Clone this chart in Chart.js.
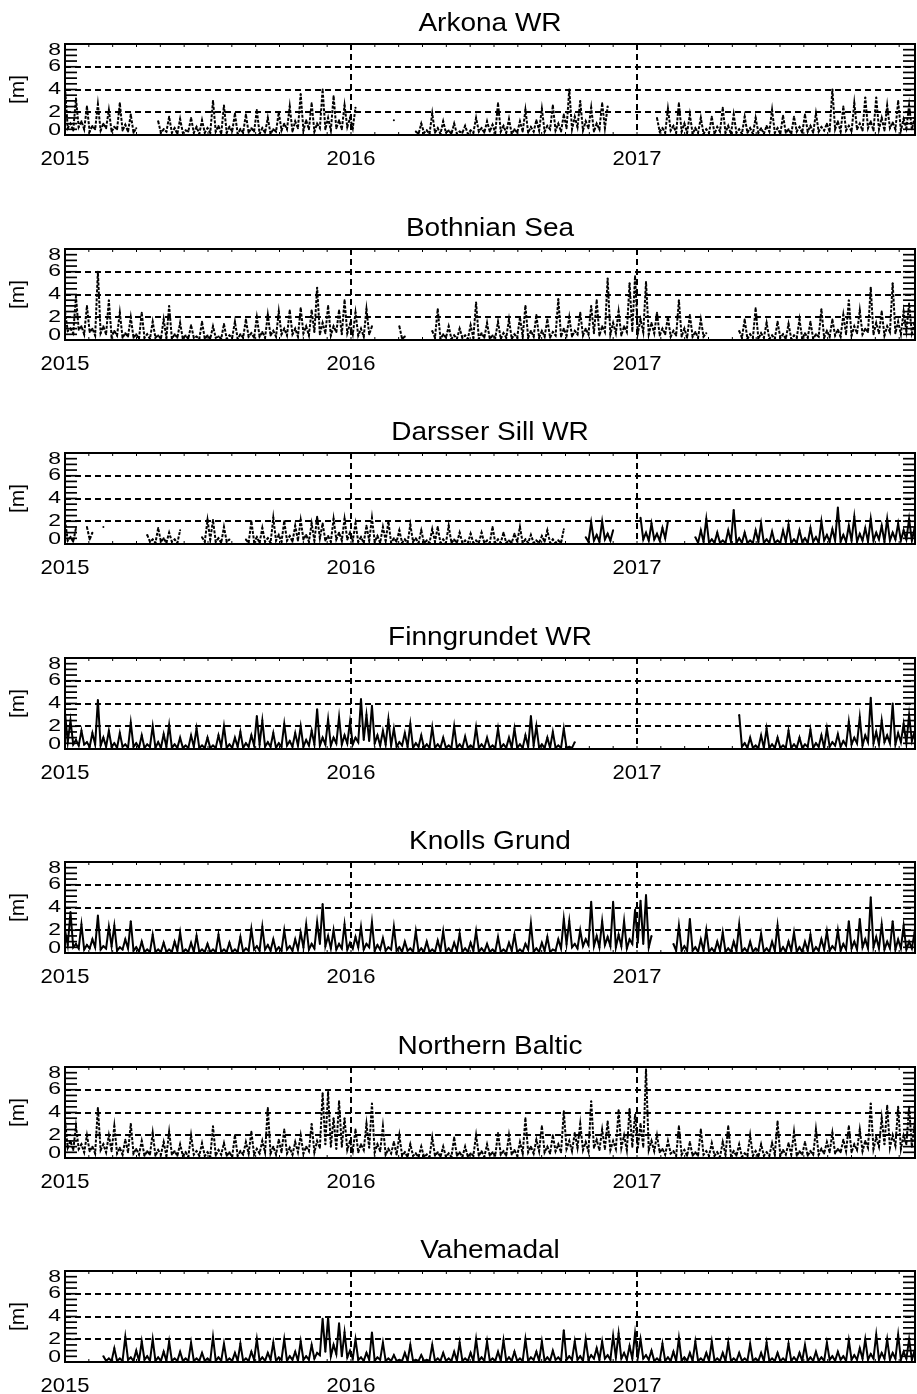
<!DOCTYPE html>
<html>
<head>
<meta charset="utf-8">
<title>Significant wave height 2015-2017</title>
<script src="https://cdn.jsdelivr.net/npm/chart.js@4.4.1/dist/chart.umd.min.js"></script>
<style>
    html, body { margin: 0; padding: 0; background: #fff; }
    body { width: 917px; height: 1394px; overflow: hidden; position: relative; }
    .panel { position: absolute; left: 0; width: 917px; height: 180px; }
</style>
</head>
<body>
<script>
// wave height [m], one reading per week (week 0 = 1 Jan 2015),
// plus the trough seen half a week later (...Low arrays); null = no data
const arkona = [
    4.2, 1.0, 3.2, 1.2, 2.5, 0.8, 2.7, 1.0, 2.2, 0.7, 2.8, 0.9, 1.8,
    0.6, null, null, null, 1.2, 0.5, 1.6, 0.6, 1.4, 0.4, 1.5, 0.7, 1.3,
    0.6, 3.0, 0.8, 2.6, 0.7, 1.9, 0.5, 1.8, 0.6, 2.2, 0.6, 1.5, 0.5,
    2.0, 1.0, 2.5, 1.2, 3.6, 1.3, 2.8, 1.0, 4.0, 1.5, 3.4, 1.3, 2.6,
    1.5, 2.4, null, null, null, null, null, null, 1.3, null, null, null, 0.3,
    1.0, 0.4, 1.9, 0.6, 1.2, 0.4, 1.0, 0.3, 0.8, 0.4, 1.5, 0.6, 1.2,
    0.9, 2.8, 0.8, 1.4, 0.5, 1.2, 2.2, 0.7, 1.3, 2.3, 0.8, 2.6, 1.0,
    1.8, 4.0, 1.6, 3.0, 1.2, 2.4, 1.0, 2.8, 2.5, null, null, null, null,
    null, null, null, null, 1.5, 0.6, 2.3, 0.8, 2.8, 1.0, 1.8, 0.6, 1.5,
    0.5, 1.6, 0.7, 2.4, 0.8, 1.8, 0.5, 1.6, 0.6, 1.5, 0.6, 0.8, 2.2,
    0.6, 1.7, 0.5, 1.6, 0.7, 1.8, 0.8, 1.9, 0.7, 1.0, 4.0, 1.2, 2.5,
    0.8, 2.8, 1.0, 3.3, 1.2, 3.3, 1.5, 2.6, 1.1, 3.0, 1.4, 2.6, 1.5
];
const arkonaLow = [
    0.6, 0.4, 0.7, 0.5, 0.3, 0.5, 0.4, 0.6, 0.3, 0.5, 0.4, 0.3, 0.2,
    null, null, null, null, 0.2, 0.3, 0.2, 0.1, 0.2, 0.3, 0.2, 0.1, 0.2,
    0.2, 0.3, 0.1, 0.2, 0.3, 0.1, 0.2, 0.2, 0.3, 0.1, 0.2, 0.1, 0.3,
    0.4, 0.5, 0.3, 0.6, 0.4, 0.5, 0.3, 0.6, 0.5, 0.4, 0.6, 0.5, 0.7,
    0.6, null, null, null, null, null, null, null, null, null, null, null, 0.1,
    0.2, 0.1, 0.2, 0.1, 0.2, 0.1, 0.1, 0.2, 0.1, 0.2, 0.3, 0.2, 0.3,
    0.2, 0.3, 0.2, 0.1, 0.2, 0.3, 0.2, 0.3, 0.4, 0.3, 0.5, 0.4, 0.3,
    0.6, 0.5, 0.7, 0.4, 0.6, 0.3, 0.5, 0.6, null, null, null, null, null,
    null, null, null, null, 0.3, 0.2, 0.4, 0.2, 0.3, 0.2, 0.1, 0.2, 0.1,
    0.2, 0.1, 0.3, 0.2, 0.1, 0.2, 0.1, 0.2, 0.1, 0.2, 0.1, 0.3, 0.2,
    0.1, 0.2, 0.1, 0.3, 0.2, 0.3, 0.2, 0.3, 0.4, 0.3, 0.5, 0.3, 0.4,
    0.3, 0.5, 0.4, 0.6, 0.4, 0.5, 0.4, 0.6, 0.5, 0.4, 0.6, 0.5, 0.6
];
const bothnian = [
    2.5, 1.0, 3.8, 1.2, 3.0, 1.0, 6.0, 1.2, 3.5, 0.8, 2.4, 0.6, 2.0,
    0.5, 2.4, 0.5, 1.6, 0.4, 1.8, 3.0, 0.5, 1.5, 0.4, 1.3, 0.3, 1.6,
    0.4, 1.2, 0.3, 1.4, 0.4, 1.6, 0.5, 1.8, 0.6, 2.0, 0.7, 2.2, 0.8,
    2.5, 1.0, 2.6, 1.0, 2.8, 1.2, 2.6, 4.6, 1.5, 3.0, 1.2, 2.6, 3.5,
    1.4, 2.4, 1.0, 2.7, 1.2, null, null, null, null, 1.2, 0.3, null, null,
    null, null, 0.8, 2.7, 0.5, 1.2, 0.4, 1.0, 0.4, 1.3, 3.3, 0.6, 1.5,
    0.4, 1.6, 0.6, 1.8, 0.5, 2.0, 3.0, 0.8, 2.2, 0.8, 1.8, 0.7, 3.6,
    1.0, 2.0, 0.8, 2.4, 1.0, 3.0, 3.5, 1.2, 5.4, 1.5, 2.5, 1.2, 5.0,
    5.6, 1.8, 5.1, 1.5, 2.4, 1.0, 2.0, 0.8, 3.5, 1.0, 2.2, 0.7, 1.8,
    0.6, null, null, null, null, null, 0.8, 1.8, 0.5, 2.8, 0.6, 1.5, 0.4,
    1.6, 0.5, 1.4, 0.4, 1.8, 0.6, 1.6, 0.5, 2.7, 0.8, 1.8, 0.9, 2.2,
    3.5, 1.2, 2.6, 1.0, 4.6, 1.5, 2.5, 1.2, 5.0, 1.6, 2.5, 3.2, 1.5
];
const bothnianLow = [
    0.8, 0.6, 0.9, 0.5, 0.7, 0.4, 0.6, 0.5, 0.3, 0.4, 0.2, 0.3, 0.2,
    0.1, 0.2, 0.1, 0.2, 0.1, 0.2, 0.1, 0.2, 0.1, 0.1, 0.2, 0.1, 0.1,
    0.1, 0.2, 0.1, 0.1, 0.2, 0.1, 0.2, 0.3, 0.2, 0.3, 0.2, 0.4, 0.3,
    0.5, 0.4, 0.5, 0.3, 0.6, 0.4, 0.7, 0.5, 0.6, 0.4, 0.7, 0.5, 0.6,
    0.5, 0.4, 0.3, 0.5, null, null, null, null, null, 0.1, null, null, null,
    null, null, 0.2, 0.1, 0.2, 0.1, 0.1, 0.2, 0.1, 0.2, 0.1, 0.2, 0.1,
    0.2, 0.1, 0.2, 0.1, 0.2, 0.3, 0.2, 0.3, 0.2, 0.3, 0.2, 0.4, 0.3,
    0.4, 0.3, 0.5, 0.4, 0.5, 0.6, 0.4, 0.7, 0.5, 0.6, 0.4, 0.7, 0.8,
    0.6, 0.7, 0.5, 0.6, 0.4, 0.5, 0.3, 0.4, 0.3, 0.2, 0.3, 0.2, 0.3,
    null, null, null, null, null, null, 0.2, 0.1, 0.2, 0.1, 0.2, 0.1, 0.1,
    0.2, 0.1, 0.1, 0.2, 0.1, 0.2, 0.1, 0.3, 0.2, 0.3, 0.4, 0.3, 0.5,
    0.4, 0.6, 0.5, 0.7, 0.5, 0.6, 0.4, 0.7, 0.6, 0.5, 0.8, 0.6, 0.7
];
const darsser = [
    2.1, 0.6, 1.4, null, 1.5, 1.0, null, 1.5, null, null, null, null, null,
    null, null, 0.8, 0.4, 1.4, 0.5, 1.0, 0.4, 1.2, null, null, null, 0.6,
    2.1, 2.1, 0.5, 1.5, 0.4, null, null, 0.4, 2.0, 0.6, 1.4, 0.5, 2.3,
    0.8, 2.0, 0.7, 1.6, 2.1, 0.8, 1.8, 2.4, 1.8, 0.7, 2.2, 1.0, 2.2,
    1.0, 1.8, 0.6, 1.6, 2.3, 0.7, 1.5, 2.0, 0.5, 1.2, 0.4, 1.7, 0.5,
    1.2, 0.3, 1.3, 1.5, 0.4, 1.6, 0.4, 1.0, 0.3, 0.9, 0.3, 1.0, 0.3,
    1.5, 0.4, 1.0, 0.3, 0.9, 1.5, 0.4, 0.8, 0.3, 0.7, 1.2, 0.4, 0.3,
    1.3, null, null, null, 0.6, 1.9, 0.8, 2.0, 0.9, 1.2, null, null, null,
    null, 2.3, 1.0, 1.8, 0.9, 1.4, 2.0, null, null, null, null, 0.6, 1.2,
    2.2, 0.4, 1.0, 0.3, 1.2, 3.0, 0.5, 1.0, 0.3, 1.2, 1.8, 0.4, 1.1,
    0.3, 1.2, 1.7, 0.4, 1.2, 0.5, 1.4, 0.6, 2.0, 0.8, 1.3, 3.2, 0.8,
    1.6, 2.4, 0.9, 1.4, 2.2, 1.0, 1.6, 2.2, 1.0, 1.8, 1.2, 2.2, 1.4
];
const darsserLow = [
    0.3, 0.2, null, null, 0.4, null, null, null, null, null, null, null, null,
    null, null, 0.2, 0.1, 0.2, 0.1, 0.2, 0.1, null, null, null, null, 0.2,
    0.4, 0.2, 0.1, 0.2, null, null, null, 0.1, 0.2, 0.1, 0.2, 0.1, 0.3,
    0.2, 0.3, 0.2, 0.3, 0.4, 0.2, 0.3, 0.5, 0.3, 0.2, 0.4, 0.3, 0.4,
    0.3, 0.2, 0.1, 0.3, 0.2, 0.1, 0.3, 0.1, 0.2, 0.1, 0.1, 0.2, 0.1,
    0.1, 0.1, 0.2, 0.1, 0.1, 0.1, 0.1, 0.1, 0.1, 0.1, 0.1, 0.1, 0.1,
    0.1, 0.1, 0.1, 0.1, 0.2, 0.1, 0.1, 0.1, 0.1, 0.2, 0.1, 0.1, 0.1,
    null, null, null, null, 0.2, 0.3, 0.2, 0.4, 0.3, null, null, null, null,
    null, 0.4, 0.3, 0.4, 0.3, 0.5, null, null, null, null, null, 0.1, 0.2,
    0.1, 0.1, 0.1, 0.1, 0.2, 0.1, 0.1, 0.1, 0.1, 0.2, 0.1, 0.1, 0.1,
    0.1, 0.2, 0.1, 0.1, 0.2, 0.1, 0.2, 0.1, 0.3, 0.2, 0.3, 0.2, 0.2,
    0.3, 0.2, 0.3, 0.2, 0.3, 0.4, 0.2, 0.3, 0.4, 0.3, 0.4, 0.3, 0.4
];
const finngrundet = [
    3.2, 2.5, 0.8, 1.6, 0.6, 1.4, 4.3, 1.0, 1.6, 0.5, 1.4, 0.4, 2.3,
    0.5, 1.2, 0.4, 2.0, 0.6, 1.3, 2.1, 0.4, 1.0, 0.3, 1.2, 1.8, 0.3,
    1.0, 0.3, 1.2, 2.0, 0.4, 1.0, 1.5, 0.5, 1.2, 2.9, 2.5, 0.6, 1.4,
    0.5, 2.2, 0.7, 1.4, 2.0, 0.8, 1.6, 3.5, 1.0, 2.6, 1.0, 2.8, 1.2,
    2.4, 1.0, 4.4, 3.0, 3.8, 1.2, 1.6, 2.6, 1.8, 0.6, 1.4, 2.2, 0.5,
    1.2, 0.4, 1.9, 0.4, 1.0, 0.3, 2.0, 0.4, 1.1, 0.3, 1.9, 0.4, 1.0,
    0.3, 1.8, 0.4, 1.0, 1.8, 0.4, 1.2, 2.9, 2.0, 0.4, 1.0, 1.5, 0.3,
    1.8, 0.2, 0.6, null, null, null, null, null, null, null, null, null, null,
    null, null, null, null, null, null, null, null, null, null, null, null, null,
    null, null, null, null, null, null, 3.0, 0.5, 1.0, 0.3, 1.2, 1.8, 0.4,
    1.0, 0.3, 1.6, 0.4, 1.0, 0.4, 1.7, 0.5, 1.2, 1.8, 0.6, 1.3, 0.7,
    2.4, 1.0, 2.8, 1.2, 4.5, 1.5, 2.5, 1.2, 4.0, 1.4, 2.2, 3.0, 1.5
];
const finngrundetLow = [
    0.6, 0.4, 0.3, 0.4, 0.2, 0.4, 0.3, 0.2, 0.2, 0.1, 0.2, 0.1, 0.2,
    0.1, 0.1, 0.2, 0.1, 0.1, 0.2, 0.1, 0.1, 0.1, 0.1, 0.2, 0.1, 0.1,
    0.1, 0.1, 0.2, 0.1, 0.1, 0.2, 0.1, 0.2, 0.3, 0.4, 0.2, 0.2, 0.1,
    0.2, 0.3, 0.2, 0.3, 0.2, 0.3, 0.4, 0.3, 0.4, 0.3, 0.5, 0.4, 0.5,
    0.4, 0.6, 0.8, 0.7, 0.5, 0.3, 0.4, 0.3, 0.2, 0.3, 0.2, 0.1, 0.2,
    0.1, 0.1, 0.1, 0.1, 0.1, 0.1, 0.1, 0.1, 0.1, 0.1, 0.1, 0.1, 0.1,
    0.1, 0.1, 0.1, 0.1, 0.1, 0.1, 0.2, 0.3, 0.1, 0.1, 0.1, 0.1, 0.1,
    0.1, 0.1, null, null, null, null, null, null, null, null, null, null, null,
    null, null, null, null, null, null, null, null, null, null, null, null, null,
    null, null, null, null, null, null, 0.2, 0.1, 0.1, 0.1, 0.1, 0.1, 0.1,
    0.1, 0.1, 0.1, 0.1, 0.1, 0.2, 0.1, 0.2, 0.1, 0.2, 0.3, 0.2, 0.3,
    0.4, 0.5, 0.3, 0.6, 0.5, 0.4, 0.6, 0.5, 0.4, 0.6, 0.5, 0.7, 0.6
];
const knolls = [
    2.0, 3.6, 0.8, 2.5, 0.7, 1.2, 3.3, 0.6, 2.3, 2.4, 0.5, 1.2, 2.8,
    0.5, 1.0, 0.3, 1.6, 0.3, 0.9, 0.3, 1.0, 1.8, 0.3, 0.9, 1.5, 0.3,
    0.8, 0.3, 1.6, 0.3, 0.9, 0.3, 1.4, 0.4, 2.1, 0.6, 2.3, 0.7, 1.2,
    0.5, 2.0, 0.6, 1.2, 1.8, 2.5, 0.8, 2.7, 4.3, 1.5, 2.0, 0.8, 2.5,
    0.9, 1.4, 2.3, 0.8, 2.7, 0.7, 1.3, 0.5, 2.3, 0.5, 1.0, 0.4, 1.9,
    0.4, 1.0, 0.3, 1.1, 1.9, 0.4, 0.9, 1.7, 0.4, 0.9, 1.9, 0.4, 0.8,
    0.3, 1.4, 0.3, 0.9, 1.6, 0.3, 0.8, 2.6, 0.4, 0.9, 1.4, 0.3, 1.2,
    3.0, 2.8, 0.8, 2.0, 1.2, 4.5, 1.5, 2.8, 1.4, 4.5, 1.6, 2.8, 1.2,
    3.8, 4.6, 5.1, 1.5, null, null, null, 0.8, 2.4, 0.6, 3.0, 0.5, 1.2,
    2.0, 0.4, 1.0, 1.8, 0.4, 1.0, 2.5, 0.4, 1.0, 0.4, 1.7, 0.4, 1.0,
    2.4, 0.5, 1.0, 1.8, 0.5, 1.0, 1.6, 0.5, 1.2, 1.9, 0.6, 2.0, 0.8,
    2.8, 1.0, 3.0, 1.2, 4.9, 1.4, 2.5, 1.0, 2.8, 1.2, 2.4, 1.0, 1.8
];
const knollsLow = [
    0.7, 0.5, 0.4, 0.3, 0.4, 0.5, 0.3, 0.4, 0.6, 0.2, 0.3, 0.4, 0.2,
    0.1, 0.1, 0.1, 0.1, 0.1, 0.1, 0.1, 0.2, 0.1, 0.1, 0.1, 0.1, 0.1,
    0.1, 0.1, 0.1, 0.1, 0.1, 0.1, 0.1, 0.2, 0.3, 0.2, 0.3, 0.2, 0.2,
    0.2, 0.3, 0.2, 0.3, 0.5, 0.3, 0.4, 0.8, 0.6, 0.4, 0.3, 0.4, 0.3,
    0.4, 0.5, 0.3, 0.5, 0.2, 0.3, 0.2, 0.3, 0.2, 0.1, 0.2, 0.1, 0.1,
    0.1, 0.1, 0.1, 0.2, 0.1, 0.1, 0.2, 0.1, 0.1, 0.2, 0.1, 0.1, 0.1,
    0.1, 0.1, 0.1, 0.2, 0.1, 0.1, 0.3, 0.1, 0.1, 0.2, 0.1, 0.2, 0.4,
    0.8, 0.5, 0.4, 0.6, 0.7, 0.6, 0.5, 0.7, 0.6, 0.5, 0.6, 0.4, 0.8,
    0.9, 0.8, 0.5, null, null, null, null, 0.2, 0.2, 0.2, 0.2, 0.1, 0.2,
    0.1, 0.1, 0.2, 0.1, 0.1, 0.2, 0.1, 0.1, 0.1, 0.2, 0.1, 0.1, 0.2,
    0.1, 0.1, 0.2, 0.1, 0.1, 0.2, 0.1, 0.2, 0.3, 0.2, 0.3, 0.2, 0.3,
    0.4, 0.3, 0.5, 0.4, 0.5, 0.4, 0.3, 0.4, 0.3, 0.4, 0.3, 0.4, 0.5
];
const northernBaltic = [
    3.3, 1.5, 2.8, 1.2, 2.0, 1.0, 4.4, 1.2, 2.0, 2.8, 0.9, 1.6, 3.0,
    0.8, 1.5, 0.6, 2.2, 0.7, 1.4, 2.3, 0.6, 1.2, 0.5, 2.0, 0.6, 1.3,
    0.5, 2.8, 0.7, 1.3, 0.5, 2.0, 0.6, 1.4, 2.3, 0.8, 1.5, 4.4, 1.0,
    1.6, 2.5, 0.9, 1.4, 2.0, 1.0, 3.0, 1.5, 5.7, 5.8, 3.5, 5.0, 3.5,
    1.5, 2.5, 1.2, 3.0, 4.8, 1.2, 2.8, 0.8, 1.4, 2.0, 0.5, 1.2, 0.4,
    1.0, 0.3, 1.8, 0.5, 1.0, 0.4, 1.8, 0.5, 1.0, 0.4, 2.0, 0.6, 1.2,
    0.5, 2.2, 0.6, 2.0, 0.7, 1.4, 3.5, 1.0, 1.6, 2.8, 1.0, 2.0, 1.2,
    4.1, 1.5, 2.2, 3.0, 1.4, 5.0, 1.6, 2.5, 3.2, 1.5, 4.2, 2.0, 4.3,
    3.8, 3.0, 7.8, 1.5, 2.0, 0.8, 1.5, 0.6, 2.8, 0.7, 1.4, 0.5, 2.5,
    0.6, 1.3, 0.5, 1.4, 2.8, 0.6, 1.2, 0.4, 2.0, 0.6, 1.2, 0.5, 1.3,
    3.2, 0.7, 1.3, 2.3, 0.6, 1.4, 0.6, 2.5, 0.8, 1.4, 2.2, 0.8, 1.6,
    2.8, 1.2, 2.5, 1.5, 4.8, 1.8, 3.5, 4.6, 2.0, 4.5, 2.0, 4.5, 3.0
];
const northernBalticLow = [
    0.9, 0.7, 0.8, 0.5, 0.6, 0.4, 0.7, 0.5, 0.6, 0.4, 0.3, 0.5, 0.4,
    0.3, 0.2, 0.3, 0.2, 0.3, 0.2, 0.3, 0.2, 0.2, 0.1, 0.3, 0.2, 0.2,
    0.1, 0.2, 0.3, 0.2, 0.1, 0.2, 0.3, 0.4, 0.3, 0.4, 0.5, 0.4, 0.3,
    0.5, 0.4, 0.3, 0.5, 0.4, 0.6, 0.5, 0.9, 1.2, 1.0, 0.8, 1.0, 0.7,
    0.6, 0.5, 0.7, 0.9, 0.5, 0.6, 0.3, 0.4, 0.3, 0.2, 0.1, 0.2, 0.1,
    0.1, 0.1, 0.2, 0.1, 0.1, 0.1, 0.2, 0.1, 0.1, 0.2, 0.2, 0.1, 0.2,
    0.2, 0.3, 0.2, 0.3, 0.2, 0.4, 0.5, 0.4, 0.6, 0.5, 0.4, 0.6, 0.5,
    0.8, 0.6, 0.9, 0.7, 0.6, 0.9, 0.7, 0.8, 0.7, 0.8, 0.9, 0.7, 1.0,
    0.9, 1.0, 0.7, 0.6, 0.5, 0.3, 0.4, 0.2, 0.3, 0.2, 0.2, 0.2, 0.3,
    0.2, 0.2, 0.1, 0.3, 0.2, 0.2, 0.1, 0.2, 0.2, 0.1, 0.2, 0.2, 0.3,
    0.2, 0.3, 0.3, 0.2, 0.3, 0.2, 0.3, 0.3, 0.4, 0.5, 0.4, 0.5, 0.6,
    0.5, 0.7, 0.6, 0.9, 0.8, 1.0, 1.2, 0.9, 1.1, 0.8, 1.2, 1.0, 1.2
];
const vahemadal = [
    null, null, null, null, null, null, null, 0.5, 0.3, 1.2, 0.3, 2.2, 0.4,
    1.0, 1.8, 0.5, 2.0, 0.4, 0.9, 1.8, 0.3, 0.9, 0.3, 1.7, 0.3, 0.8,
    0.3, 2.2, 0.4, 1.6, 0.3, 0.8, 1.6, 0.3, 0.9, 2.0, 0.4, 0.8, 1.7,
    0.4, 2.0, 0.5, 0.9, 1.8, 0.5, 1.5, 0.8, 3.8, 3.9, 1.5, 3.4, 2.6,
    1.0, 2.0, 0.4, 0.8, 2.6, 0.4, 1.7, 0.3, 0.6, 0.2, 0.8, 1.5, 0.2,
    0.6, 0.2, 1.5, 0.3, 0.8, 0.3, 0.9, 1.7, 0.3, 0.8, 2.0, 0.4, 1.8,
    0.3, 0.9, 1.9, 0.4, 0.9, 0.3, 2.0, 0.4, 0.9, 1.8, 0.4, 1.0, 0.4,
    2.8, 0.5, 1.8, 0.5, 2.0, 0.6, 1.2, 1.8, 0.6, 2.3, 2.5, 0.8, 1.4,
    2.5, 2.0, 0.6, 1.0, 0.3, 1.6, 0.4, 0.9, 2.1, 0.4, 0.8, 1.8, 0.3,
    0.8, 1.8, 0.3, 0.8, 1.7, 0.3, 0.8, 0.3, 1.6, 0.3, 0.8, 1.7, 0.3,
    0.8, 0.3, 1.6, 0.4, 0.8, 1.5, 0.4, 0.9, 0.4, 1.7, 0.5, 0.9, 0.5,
    1.9, 0.6, 1.2, 2.0, 0.7, 2.4, 0.8, 2.0, 0.8, 2.4, 0.9, 2.0, 1.0
];
const vahemadalLow = [
    null, null, null, null, null, null, null, 0.1, 0.1, 0.1, 0.1, 0.2, 0.1,
    0.1, 0.2, 0.1, 0.1, 0.1, 0.1, 0.1, 0.1, 0.1, 0.1, 0.1, 0.1, 0.1,
    0.1, 0.1, 0.1, 0.1, 0.1, 0.1, 0.1, 0.1, 0.2, 0.1, 0.1, 0.2, 0.1,
    0.2, 0.1, 0.2, 0.1, 0.2, 0.2, 0.3, 0.6, 0.9, 0.5, 0.7, 0.5, 0.4,
    0.3, 0.2, 0.1, 0.2, 0.1, 0.2, 0.1, 0.1, 0.1, 0.1, 0.1, 0.1, 0.1,
    0.1, 0.1, 0.1, 0.1, 0.1, 0.1, 0.1, 0.1, 0.1, 0.1, 0.1, 0.1, 0.1,
    0.1, 0.1, 0.1, 0.1, 0.1, 0.1, 0.1, 0.2, 0.1, 0.1, 0.1, 0.2, 0.1,
    0.2, 0.2, 0.2, 0.1, 0.2, 0.3, 0.2, 0.3, 0.2, 0.4, 0.3, 0.2, 0.3,
    0.4, 0.3, 0.2, 0.1, 0.1, 0.1, 0.1, 0.1, 0.1, 0.1, 0.1, 0.1, 0.1,
    0.1, 0.1, 0.1, 0.1, 0.1, 0.1, 0.1, 0.1, 0.1, 0.1, 0.1, 0.1, 0.1,
    0.1, 0.1, 0.1, 0.1, 0.1, 0.1, 0.1, 0.1, 0.1, 0.2, 0.1, 0.2, 0.1,
    0.2, 0.2, 0.3, 0.2, 0.3, 0.2, 0.3, 0.2, 0.3, 0.2, 0.3, 0.2, 0.3
];

const stationNames = ['Arkona WR', 'Bothnian Sea', 'Darsser Sill WR', 'Finngrundet WR',
    'Knolls Grund', 'Northern Baltic', 'Vahemadal'];
const stationValues = [arkona, bothnian, darsser, finngrundet, knolls, northernBaltic, vahemadal];
const stationLows = [arkonaLow, bothnianLow, darsserLow, finngrundetLow, knollsLow, northernBalticLow, vahemadalLow];
// gappy records look broken: dashed stroke up to this week, solid after
const dashedUntil = [999, 999, 95, 0, 0, 999, 0];

const yTickLabels = [0, 2, 4, 6, 8];
const gridValues = [2, 4, 6];
const yearLabels = [2015, 2016, 2017];
const gridYears = [2016, 2017];
const xMin = 2015;
const xMax = 2017.972;
const weekLen = 7 / 365.25;

function line(ctx, x1, y1, x2, y2) {
    ctx.beginPath();
    ctx.moveTo(x1, y1);
    ctx.lineTo(x2, y2);
    ctx.stroke();
}

function stretchedText(ctx, text, x, y, sx, align) {
    ctx.save();
    ctx.translate(x, y);
    ctx.scale(sx, 1);
    ctx.textAlign = align;
    ctx.textBaseline = 'middle';
    ctx.fillText(text, 0, 0);
    ctx.restore();
}

const framePlugin = {
    id: 'frame',
    beforeDatasetsDraw: function (chart) {
        var ctx = chart.ctx, a = chart.chartArea;
        var x = chart.scales.x, y = chart.scales.y;
        ctx.save();
        ctx.strokeStyle = '#000';
        ctx.lineWidth = 2;
        ctx.setLineDash([6, 4]);
        gridValues.forEach(function (v) {
            var py = Math.round(y.getPixelForValue(v));
            line(ctx, a.left, py, a.right, py);
        });
        gridYears.forEach(function (v) {
            var px = Math.round(x.getPixelForValue(v));
            line(ctx, px, a.top, px, a.bottom);
        });
        ctx.restore();
    },
    afterDatasetsDraw: function (chart, args, opts) {
        var ctx = chart.ctx, a = chart.chartArea;
        var x = chart.scales.x, y = chart.scales.y;
        ctx.save();
        ctx.strokeStyle = '#000';
        ctx.fillStyle = '#000';

        // y ticks every 0.5 m, both sides, pointing inward
        ctx.lineWidth = 1.7;
        for (var v = 0.5; v < 8; v += 0.5) {
            var py = y.getPixelForValue(v);
            line(ctx, a.left, py, a.left + 12, py);
            line(ctx, a.right, py, a.right - 12, py);
        }
        // monthly x ticks
        ctx.lineWidth = 1;
        for (var m = 1; m < 36; m++) {
            var px = x.getPixelForValue(xMin + m / 12);
            if (px > a.right - 2) break;
            line(ctx, px, a.top, px, a.top + 3);
            line(ctx, px, a.bottom, px, a.bottom - 3);
        }
        // frame
        ctx.lineWidth = 2;
        ctx.strokeRect(a.left, a.top, a.right - a.left, a.bottom - a.top);

        // labels
        ctx.font = '25px "Liberation Sans", Arial, sans-serif';
        stretchedText(ctx, opts.title, (a.left + a.right) / 2, 24, 1.12, 'center');

        ctx.font = '17px "Liberation Sans", Arial, sans-serif';
        yTickLabels.forEach(function (v) {
            var py = y.getPixelForValue(v);
            if (v === 0) py -= 5;
            if (v === 8) py += 6;
            stretchedText(ctx, String(v), a.left - 4, py, 1.35, 'right');
        });

        ctx.font = '21px "Liberation Sans", Arial, sans-serif';
        yearLabels.forEach(function (v) {
            stretchedText(ctx, String(v), x.getPixelForValue(v), 159, 1.05, 'center');
        });

        ctx.save();
        ctx.translate(18, (a.top + a.bottom) / 2);
        ctx.rotate(-Math.PI / 2);
        ctx.textAlign = 'center';
        ctx.textBaseline = 'middle';
        ctx.fillText('[m]', 0, 0);
        ctx.restore();

        ctx.restore();
    }
};

document.addEventListener('DOMContentLoaded', function () {
    stationNames.forEach(function (name, i) {
        var div = document.createElement('div');
        div.className = 'panel';
        div.style.top = Math.round(i * 204.5) + 'px';
        var canvas = document.createElement('canvas');
        canvas.width = 917;
        canvas.height = 180;
        div.appendChild(canvas);
        document.body.appendChild(div);

        // weekly reading followed by the trough half a week later
        var points = [];
        stationValues[i].forEach(function (v, k) {
            points.push({ x: xMin + k * weekLen, y: v });
            points.push({ x: xMin + (k + 0.5) * weekLen, y: stationLows[i][k] });
        });
        var limit = xMin + dashedUntil[i] * weekLen;

        new Chart(canvas, {
            type: 'line',
            data: {
                datasets: [{
                    data: points,
                    borderColor: '#000',
                    borderWidth: 2,
                    borderJoinStyle: 'miter',
                    pointRadius: 1,
                    pointHoverRadius: 0,
                    pointBorderWidth: 0,
                    pointBackgroundColor: '#000',
                    tension: 0,
                    spanGaps: false,
                    segment: {
                        borderDash: function (c) {
                            return c.p0.parsed.x < limit ? [3, 1.5] : [];
                        }
                    }
                }]
            },
            options: {
                responsive: false,
                animation: false,
                devicePixelRatio: 1,
                layout: { padding: { left: 65, right: 2, top: 44, bottom: 45 } },
                scales: {
                    x: { type: 'linear', min: xMin, max: xMax, display: false },
                    y: { min: 0, max: 8, display: false }
                },
                plugins: {
                    legend: { display: false },
                    tooltip: { enabled: false },
                    frame: { title: name }
                }
            },
            plugins: [framePlugin]
        });
    });
});
</script>
</body>
</html>
